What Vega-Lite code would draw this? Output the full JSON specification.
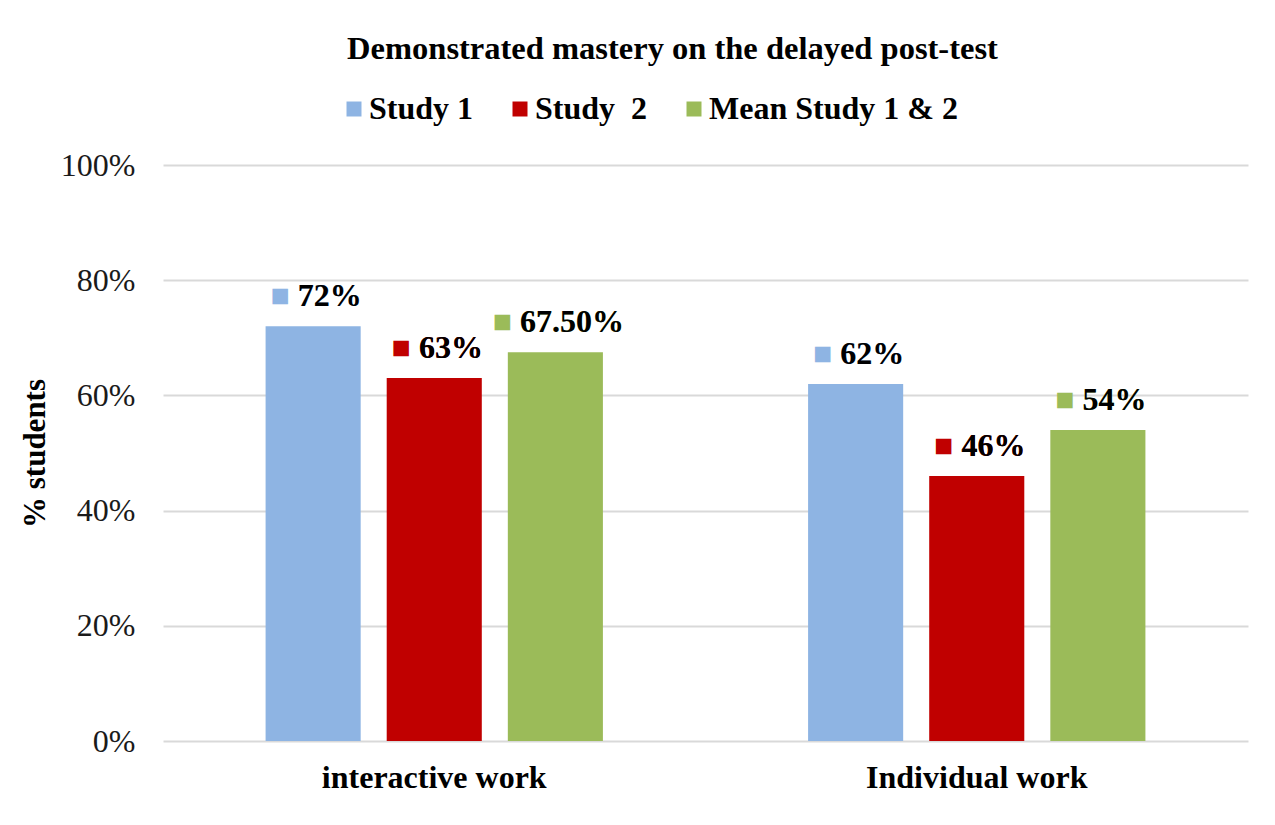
{
  "$schema": "https://vega.github.io/schema/vega-lite/v6.json",
  "width": 1085,
  "height": 576,
  "autosize": {"type": "none"},
  "padding": {"left": 163, "top": 165, "right": 27, "bottom": 84},
  "background": "white",
  "config": {"view": {"stroke": null}},
  "title": {
    "text": "Demonstrated mastery on the delayed post-test",
    "font": "Liberation Serif",
    "fontSize": 32.5,
    "fontWeight": "bold",
    "color": "black",
    "anchor": "middle",
    "frame": "group",
    "dx": -33,
    "offset": 28
  },
  "data": {
    "values": [
      {"work": "interactive work", "series": "Study 1", "value": 0.72, "label": "72%"},
      {"work": "interactive work", "series": "Study  2", "value": 0.63, "label": "63%"},
      {"work": "interactive work", "series": "Mean Study 1 & 2", "value": 0.675, "label": "67.50%"},
      {"work": "Individual work", "series": "Study 1", "value": 0.62, "label": "62%"},
      {"work": "Individual work", "series": "Study  2", "value": 0.46, "label": "46%"},
      {"work": "Individual work", "series": "Mean Study 1 & 2", "value": 0.54, "label": "54%"}
    ]
  },
  "transform": [
    {"calculate": "'■ ' + datum.label", "as": "keyLabel"},
    {"calculate": "replace(datum.series, '  ', ' \u00a0')", "as": "seriesName"}
  ],
  "encoding": {
    "x": {
      "field": "work",
      "type": "nominal",
      "sort": ["interactive work", "Individual work"],
      "scale": {"paddingInner": 0, "paddingOuter": 0},
      "axis": {
        "title": null,
        "labelAngle": 0,
        "domain": false,
        "ticks": false,
        "labelFont": "Liberation Serif",
        "labelFontSize": 32,
        "labelFontWeight": "bold",
        "labelColor": "black",
        "labelPadding": 21,
        "labelLimit": 500
      }
    },
    "xOffset": {
      "field": "seriesName",
      "type": "nominal",
      "sort": ["Study 1", "Study \u00a02", "Mean Study 1 & 2"],
      "scale": {"paddingInner": 0.2149, "paddingOuter": 0.847}
    },
    "y": {
      "field": "value",
      "type": "quantitative",
      "scale": {"domain": [0, 1], "nice": false},
      "axis": {
        "title": "% students",
        "values": [0, 0.2, 0.4, 0.6, 0.8, 1],
        "format": ".0%",
        "domain": false,
        "ticks": false,
        "grid": true,
        "gridColor": "#d9d9d9",
        "gridWidth": 2,
        "labelFont": "Liberation Serif",
        "labelFontSize": 32,
        "labelColor": "#1a1a1a",
        "labelPadding": 28,
        "titleFont": "Liberation Serif",
        "titleFontSize": 31,
        "titleFontWeight": "bold",
        "titleColor": "black",
        "titlePadding": 9
      }
    }
  },
  "layer": [
    {
      "mark": {"type": "bar"},
      "encoding": {
        "color": {
          "field": "seriesName",
          "type": "nominal",
          "sort": ["Study 1", "Study \u00a02", "Mean Study 1 & 2"],
          "scale": {
            "domain": ["Study 1", "Study \u00a02", "Mean Study 1 & 2"],
            "range": ["#8EB4E3", "#C00000", "#9BBB59"]
          },
          "legend": {
            "title": null,
            "orient": "none",
            "direction": "horizontal",
            "legendX": 175,
            "legendY": -72,
            "symbolType": "square",
            "symbolSize": 225,
            "symbolStrokeWidth": 0,
            "labelFont": "Liberation Serif",
            "labelFontSize": 32,
            "labelFontWeight": "bold",
            "labelColor": "black",
            "labelOffset": -1,
            "columnPadding": 30,
            "labelLimit": 400
          }
        }
      }
    },
    {
      "mark": {
        "type": "text",
        "font": "Liberation Serif",
        "fontSize": 32,
        "fontWeight": "bold",
        "align": "center",
        "baseline": "alphabetic",
        "dx": 3,
        "dy": -20
      },
      "encoding": {
        "text": {"field": "keyLabel"},
        "color": {
          "field": "seriesName",
          "type": "nominal",
          "legend": null
        }
      }
    },
    {
      "mark": {
        "type": "text",
        "font": "Liberation Serif",
        "fontSize": 32,
        "fontWeight": "bold",
        "align": "center",
        "baseline": "alphabetic",
        "dx": 16.67,
        "dy": -20,
        "color": "black"
      },
      "encoding": {
        "text": {"field": "label"}
      }
    }
  ]
}
